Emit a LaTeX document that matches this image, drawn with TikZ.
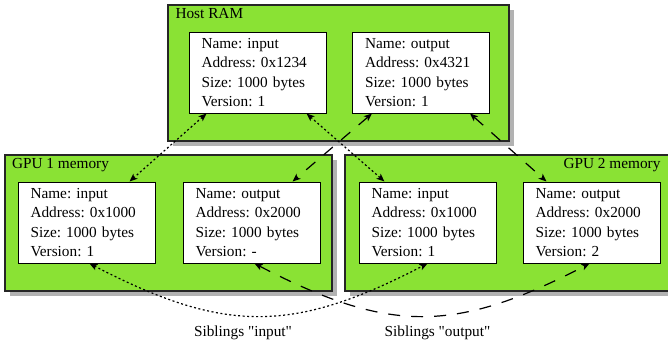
\documentclass[tikz,border=0pt]{standalone}
\usepackage{fontspec}
\setmainfont{Liberation Serif}[Ligatures=TeXOff]
\usetikzlibrary{arrows.meta,shadows}
\definecolor{memgreen}{HTML}{8AE234}
\frenchspacing
\begin{document}
\begin{tikzpicture}[x=1pt,y=-1pt,
  font=\fontsize{15.3}{19.3}\selectfont\frenchspacing,
  memorybox/.style={draw=black!85, line width=1.3pt, fill=memgreen, inner sep=0pt,
    drop shadow={shadow xshift=4.5pt, shadow yshift=-4.5pt, fill=black!30, opacity=1}},
  databox/.style={draw=black, line width=1pt, fill=white, minimum height=81pt,
    text width=112pt, inner xsep=12.5pt, inner ysep=0pt, align=left},
  boxlabel/.style={inner sep=0pt},
  arr/.style={{Stealth[length=8pt,width=6.5pt,inset=2pt]}-{Stealth[length=8pt,width=6.5pt,inset=2pt]}, line width=1.2pt},
  dots/.style={arr, dash pattern=on 2pt off 2.5pt},
  dashes/.style={arr, dash pattern=on 12pt off 11pt},
]
\useasboundingbox (0,0) rectangle (668,346);
\clip (0,0) rectangle (668,346);

% memory containers
\node[memorybox, minimum width=341pt, minimum height=136pt] (host) at (338.5,73) {};
\node[memorybox, minimum width=327pt, minimum height=136pt] (gpu1) at (168.5,223) {};
\node[memorybox, minimum width=327pt, minimum height=136pt] (gpu2) at (508.5,223) {};

\node[boxlabel, anchor=base west] (hostlbl) at ([xshift=8pt,yshift=-14pt]host.north west) {Host RAM};
\node[boxlabel, anchor=base west] (gpu1lbl) at ([xshift=7.5pt,yshift=-14pt]gpu1.north west) {GPU 1 memory};
\node[boxlabel, anchor=base east] (gpu2lbl) at ([xshift=-12pt,yshift=-14pt]gpu2.north east) {GPU 2 memory};

% data buffers
\node[databox] (hin)   at (257.5,72.5) {Name: input\\Address: 0x1234\\Size: 1000 bytes\\Version: 1};
\node[databox] (hout)  at (421,72.5)   {Name: output\\Address: 0x4321\\Size: 1000 bytes\\Version: 1};
\node[databox] (g1in)  at (86.5,222.5) {Name: input\\Address: 0x1000\\Size: 1000 bytes\\Version: 1};
\node[databox] (g1out) at (251.5,222.5){Name: output\\Address: 0x2000\\Size: 1000 bytes\\Version: -};
\node[databox] (g2in)  at (427.5,222.5){Name: input\\Address: 0x1000\\Size: 1000 bytes\\Version: 1};
\node[databox] (g2out) at (591.5,222.5){Name: output\\Address: 0x2000\\Size: 1000 bytes\\Version: 2};

% host <-> gpu transfers
\draw[dots]   ([xshift=18pt]hin.south west)   -- ([xshift=112pt]g1in.north west);
\draw[dots]   ([xshift=118pt]hin.south west)  -- ([xshift=26pt]g2in.north west);
\draw[dashes] ([xshift=20pt]hout.south west)  -- ([xshift=110pt]g1out.north west);
\draw[dashes] ([xshift=118pt]hout.south west) -- ([xshift=24pt]g2out.north west);

% sibling links
\draw[dots]   ([xshift=72pt]g1in.south west)  .. controls +(135,70) and +(-135,70) .. ([xshift=69pt]g2in.south west);
\draw[dashes] ([xshift=72pt]g1out.south west) .. controls +(135,70) and +(-135,70) .. ([xshift=67pt]g2out.south west);

\node[anchor=base] (sibin)  at (243,336)   {Siblings "input"};
\node[anchor=base] (sibout) at (437.5,336) {Siblings "output"};
\end{tikzpicture}
\end{document}
